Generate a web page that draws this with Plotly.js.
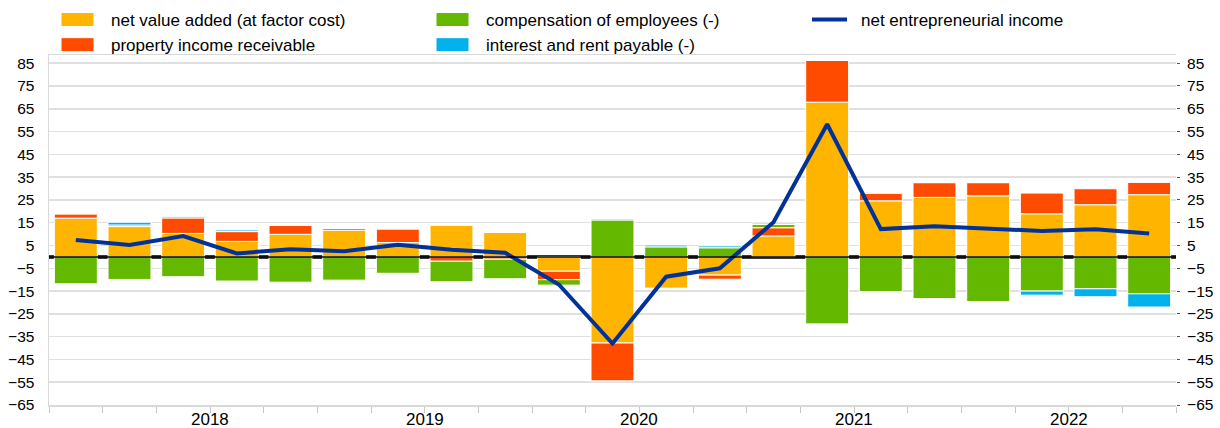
<!DOCTYPE html>
<html>
<head>
<meta charset="utf-8">
<script src="https://cdn.plot.ly/plotly-3.0.1.min.js"></script>
<style>html,body{margin:0;padding:0;background:#fff;}#chart{width:1220px;height:428px;}</style>
</head>
<body>
<div id="chart"></div>
<script>
var quarters = ['2017Q4','2018Q1','2018Q2','2018Q3','2018Q4','2019Q1','2019Q2','2019Q3','2019Q4',
  '2020Q1','2020Q2','2020Q3','2020Q4','2021Q1','2021Q2','2021Q3','2021Q4','2022Q1','2022Q2','2022Q3','2022Q4'];
var years = ['2018','2019','2020','2021','2022'];
var netValueAdded = [17.0,13.3,10.3,6.8,9.9,11.7,6.3,14.0,10.8,-6.3,-37.8,-13.7,-8.0,9.2,67.9,24.6,26.1,26.8,18.9,22.9,27.3];
var propertyIncome = [1.9,0.7,6.8,4.3,4.0,0.8,6.0,-1.9,-1.0,-3.7,-16.6,0,-1.8,3.6,18.4,3.4,6.5,5.8,9.1,7.0,5.4];
var compensation = [-11.8,-9.9,-8.7,-10.6,-11.1,-10.2,-7.2,-9.0,-8.6,-2.4,16.2,4.4,4.0,1.4,-29.4,-15.2,-18.3,-19.6,-15.0,-14.0,-16.2];
var interestRent = [0,1.2,0.5,0.7,0,0,0,0,0,0,0.4,0.8,0.8,0.6,0,0,0,0,-1.8,-3.5,-5.8];
var netEntrepreneurialIncome = [7.4,5.2,9.1,1.5,3.4,2.5,5.3,3.1,1.8,-12.1,-38.0,-8.7,-5.0,15.2,58.2,12.2,13.4,12.6,11.4,12.1,10.3];
var yTicks = [-65,-55,-45,-35,-25,-15,-5,5,15,25,35,45,55,65,75,85];

var FONT = 'Arial, "Liberation Sans", sans-serif';
var barLine = {color:'#ffffff', width:1};

function bar(name, values, color, rank) {
  return {type:'bar', name:name, x:quarters, y:values, legendrank:rank,
    marker:{color:color, line:barLine}, hoverinfo:'skip'};
}

var traces = [
  bar('net value added (at factor cost)', netValueAdded, '#FFB400', 1),
  bar('property income receivable', propertyIncome, '#FF4B00', 4),
  bar('compensation of employees (-)', compensation, '#65B800', 2),
  bar('interest and rent payable (-)', interestRent, '#00B1EA', 5),
  {type:'scatter', mode:'lines', name:'net entrepreneurial income', x:quarters, y:netEntrepreneurialIncome,
    yaxis:'y2', legendrank:3, line:{color:'#003299', width:4}, hoverinfo:'skip'}
];

var annotations = years.map(function(yr){
  var idx = [];
  quarters.forEach(function(q,i){ if(q.indexOf(yr)===0) idx.push(i); });
  var c = (idx[0] + idx[idx.length-1]) / 2;
  return {x:c, xref:'x', y:0, yref:'paper', yanchor:'top', yshift:-3, text:yr, showarrow:false,
    font:{family:FONT, size:17, color:'#000'}};
});

var yRange = [-65, 88.6];
var layout = {
  width:1220, height:428,
  margin:{l:49, r:44, t:55, b:23, pad:0, autoexpand:false},
  paper_bgcolor:'#fff', plot_bgcolor:'#fff',
  barmode:'relative', bargap:0.2,
  font:{family:FONT, size:15, color:'#000'},
  showlegend:true,
  legend:{orientation:'h', xref:'container', yref:'container', x:0.05, xanchor:'left', y:0.9953, yanchor:'top',
    font:{family:FONT, size:17, color:'#000'}, entrywidth:320, entrywidthmode:'pixels',
    itemwidth:40, bgcolor:'rgba(0,0,0,0)', tracegroupgap:0},
  xaxis:{type:'category', range:[-0.5, quarters.length-0.5], tickson:'boundaries', ticks:'outside', ticklen:6,
    tickcolor:'#c8c8c8', tickwidth:1, showticklabels:false, showgrid:false, zeroline:false,
    showline:true, linecolor:'#d9d9d9', linewidth:1.5, mirror:true, fixedrange:true},
  yaxis:{range:yRange, tickmode:'array', tickvals:yTicks, showgrid:true, gridcolor:'#e0e0e0', gridwidth:1.5,
    zeroline:false, showline:true, linecolor:'#d9d9d9', linewidth:1.5, ticks:'', ticklabelstandoff:10,
    tickfont:{family:FONT, size:15.5, color:'#000'}, fixedrange:true},
  yaxis2:{range:yRange, overlaying:'y', side:'right', tickmode:'array', tickvals:yTicks, showgrid:false,
    zeroline:false, showline:false, ticks:'outside', ticklen:3, tickcolor:'#555', ticklabelstandoff:4,
    tickfont:{family:FONT, size:15.5, color:'#000'}, fixedrange:true},
  shapes:[
    {type:'line', xref:'paper', x0:0, x1:1, yref:'y', y0:0, y1:0, layer:'below', line:{color:'#3a3a3a', width:4}},
    {type:'line', xref:'paper', x0:0, x1:1, yref:'y', y0:0, y1:0, layer:'above', line:{color:'#000', width:1.5}}
  ],
  annotations:annotations
};

var gdiv = document.getElementById('chart');
function widenSwatches(){
  gdiv.querySelectorAll('.legend .legendpoints path').forEach(function(p){
    p.setAttribute('d', 'M8,7H-25V-7H8Z');
  });
  gdiv.querySelectorAll('.legend .legendlines path').forEach(function(p){
    p.setAttribute('d', 'M1,0h35');
  });
}
Plotly.newPlot(gdiv, traces, layout, {displayModeBar:false, staticPlot:true}).then(function(){
  widenSwatches();
  setTimeout(widenSwatches, 0);
  setTimeout(widenSwatches, 50);
  setTimeout(widenSwatches, 300);
});
gdiv.on && gdiv.on('plotly_afterplot', widenSwatches);
</script>
</body>
</html>
